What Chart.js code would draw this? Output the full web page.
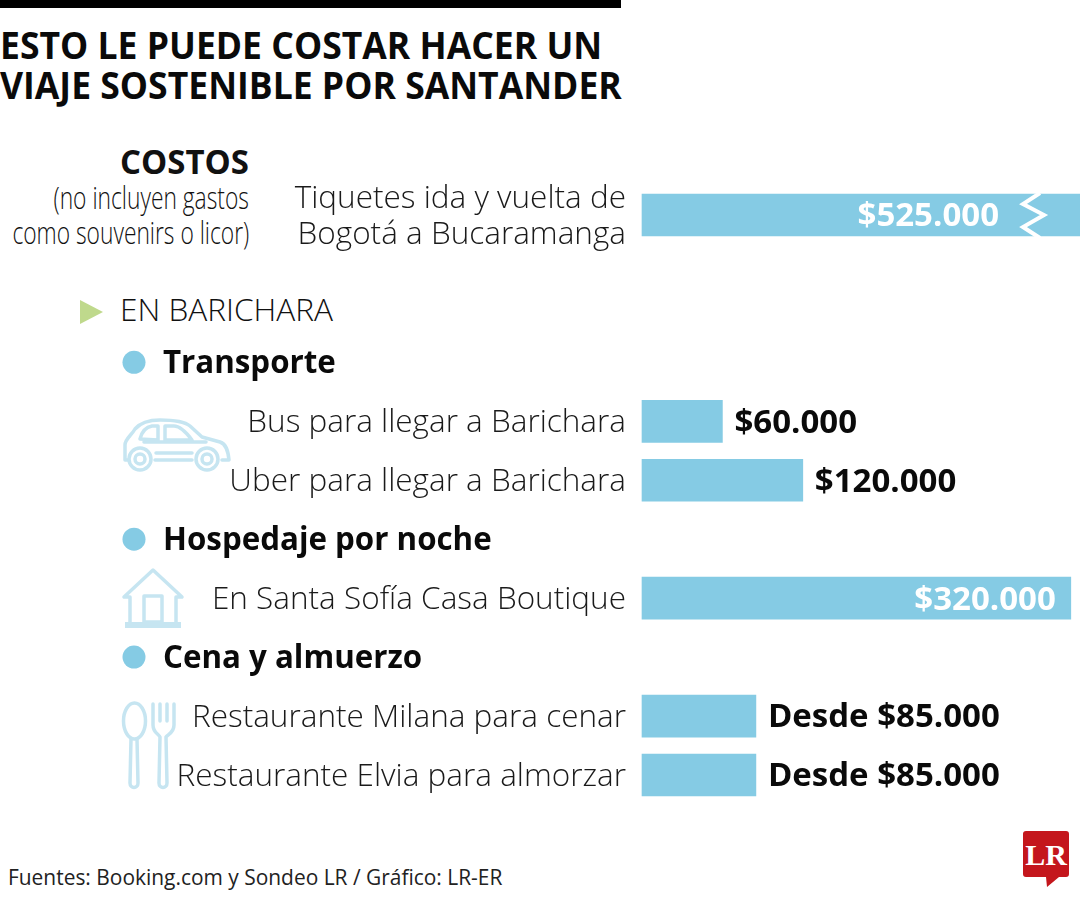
<!DOCTYPE html>
<html lang="es">
<head>
<meta charset="utf-8">
<title>Costos viaje sostenible</title>
<script src="https://cdn.jsdelivr.net/npm/chart.js@4"></script>
<style>
    html, body { margin: 0; padding: 0; background: #fff; }
    #lienzo { position: relative; width: 1080px; height: 900px; overflow: hidden; font-family: "Open Sans", sans-serif; color: #111; }
    #lienzo canvas { position: absolute; left: 0; top: 0; }
    .txt { position: absolute; white-space: nowrap; line-height: 1; }
    .barra-top { position: absolute; left: 0; top: 0; width: 621px; height: 8px; background: #000; }
    .titulo { left: 0; font-size: 38px; font-weight: 700; transform-origin: left top; color: #0a0a0a; }
    .der { transform-origin: right top; text-align: right; }
    svg { position: absolute; overflow: visible; }
    svg .ic { fill: none; stroke: #c6e5f1; stroke-width: 3.5; stroke-linejoin: round; stroke-linecap: round; }
</style>
</head>
<body>
<div id="lienzo">
    <div class="barra-top"></div>
    <div class="txt titulo" style="top:25px;transform:scaleX(.935)">ESTO LE PUEDE COSTAR HACER UN</div>
    <div class="txt titulo" style="top:65px;transform:scaleX(.935)">VIAJE SOSTENIBLE POR SANTANDER</div>

    <div class="txt der" style="right:831px;top:144px;font-size:34px;font-weight:700;transform:scaleX(.97)">COSTOS</div>
    <div class="txt der" style="right:831px;top:182px;font-size:31px;font-weight:300;transform:scaleX(.735)">(no incluyen gastos</div>
    <div class="txt der" style="right:831px;top:217px;font-size:31px;font-weight:300;transform:scaleX(.735)">como souvenirs o licor)</div>

    <svg style="left:80px;top:300px" width="24" height="24"><polygon points="0,0 23,12 0,24" fill="#bfd98c"/></svg>
    <div class="txt" style="left:120px;top:293px;font-size:32px;font-weight:300;transform-origin:left top;transform:scaleX(.987)">EN BARICHARA</div>

    <!-- carro -->
    <svg style="left:122px;top:418px" width="110" height="54" viewBox="0 0 110 54">
        <path class="ic" d="M6 42 H3 V27 C3 21 9 18 13 11 C19 4 28 2 38 2 C50 2 62 3 68 8 L80 19 L98 24 C104 26 106 32 107 42 H100 M70 42 H33"/>
        <path class="ic" d="M18 21 C20 13 24 9 30 8 H36 V22 Z M43 8 H52 C58 8 64 14 70 22 H43 Z M22 24 H84 M34 35 H70"/>
        <circle class="ic" cx="18" cy="41" r="11"/><circle class="ic" cx="18" cy="41" r="5"/>
        <circle class="ic" cx="85" cy="41" r="11"/><circle class="ic" cx="85" cy="41" r="5"/>
    </svg>
    <!-- casa -->
    <svg style="left:122px;top:568px" width="62" height="62" viewBox="0 0 62 62">
        <path class="ic" d="M2 29 L31 2 L60 29 H54 V54 M8 54 V29 H2"/>
        <rect class="ic" x="22" y="28" width="18" height="26"/>
        <rect x="3" y="54" width="56" height="6" fill="#c6e5f1"/>
    </svg>
    <!-- cuchara y tenedor -->
    <svg style="left:122px;top:701px" width="54" height="90" viewBox="0 0 54 90">
        <ellipse class="ic" cx="12.5" cy="20" rx="11" ry="18"/>
        <path class="ic" d="M9 38 L8 82 C8 88 16 88 16 82 L15 38"/>
        <path class="ic" d="M31 3 V24 C31 32 37 33 38 36 L37 82 C37 88 45 88 45 82 L44 36 C46 33 52 32 52 24 V3 M38 3 V20 M45 3 V20"/>
    </svg>
    <!-- logo LR -->
    <svg style="left:1023px;top:831px" width="46" height="58" viewBox="0 0 46 58">
        <path d="M3 0 H43 Q46 0 46 3 V43 Q46 46 43 46 H36 L24 56 L23 46 H3 Q0 46 0 43 V3 Q0 0 3 0 Z" fill="#c4161c"/>
        <text x="23" y="34" text-anchor="middle" font-family="Liberation Serif" font-weight="700" font-size="30" fill="#fff">LR</text>
    </svg>

    <div class="txt" style="left:8px;top:867px;font-size:21px;font-weight:400;color:#222;transform-origin:left top;transform:scaleX(.996)">Fuentes: Booking.com y Sondeo LR / Gráfico: LR-ER</div>

    <canvas id="grafico" width="1080" height="900"></canvas>
</div>

<script>
// Filas del eje (las vacías sirven de separación, los títulos van en "encabezados")
const filas = [
    ["Tiquetes ida y vuelta de", "Bogotá a Bucaramanga"], "", "", "", "",
    "", "", "Bus para llegar a Barichara", "", "Uber para llegar a Barichara",
    "", "", "", "En Santa Sofía Casa Boutique", "",
    "", "", "Restaurante Milana para cenar", "", "Restaurante Elvia para almorzar",
];
const costos = [
    525000, null, null, null, null,
    null, null, 60000, null, 120000,
    null, null, null, 320000, null,
    null, null, 85000, null, 85000,
];
const etiquetas = [
    "$525.000", "", "", "", "",
    "", "", "$60.000", "", "$120.000",
    "", "", "", "$320.000", "",
    "", "", "Desde $85.000", "", "Desde $85.000",
];
const encabezados = { 5: "Transporte", 11: "Hospedaje por noche", 15: "Cena y almuerzo" };

const AZUL = "#85cbe4";
const MAX_VISIBLE = 326866;   // la barra de $525.000 va cortada en el borde

// Títulos de sección, valores y el corte de la barra larga
const pluginTextos = {
    id: "textos",
    beforeDraw(chart) {
        // bajar 2px las etiquetas del eje, el centro de Open Sans queda alto
        const eje = chart.scales.y;
        if (eje._bajado) return;
        const original = eje.drawLabels.bind(eje);
        eje.drawLabels = (area) => {
            chart.ctx.save();
            chart.ctx.translate(0, 2);
            original(area);
            chart.ctx.restore();
        };
        eje._bajado = true;
    },
    afterDatasetsDraw(chart) {
        const { ctx, scales } = chart;
        const meta = chart.getDatasetMeta(0);
        ctx.save();
        ctx.textBaseline = "middle";

        Object.keys(encabezados).forEach((i) => {
            const y = scales.y.getPixelForValue(Number(i));
            ctx.fillStyle = AZUL;
            ctx.beginPath();
            ctx.arc(134, y, 11.5, 0, Math.PI * 2);
            ctx.fill();
            ctx.fillStyle = "#0a0a0a";
            ctx.font = "700 31.3px 'Open Sans'";
            ctx.textAlign = "left";
            ctx.fillText(encabezados[i], 163, y + 2);
        });

        ctx.font = "700 33px 'Open Sans'";
        costos.forEach((v, i) => {
            if (v === null) return;
            const barra = meta.data[i];
            if (v > 300000) {
                ctx.fillStyle = "#fff";
                ctx.textAlign = "right";
                ctx.fillText(etiquetas[i], v > MAX_VISIBLE ? 999 : barra.x - 15, barra.y + 2);
            } else {
                ctx.fillStyle = "#0a0a0a";
                ctx.textAlign = "left";
                ctx.fillText(etiquetas[i], barra.x + 12, barra.y + 2);
            }
        });

        // zigzag blanco
        const y0 = meta.data[0].y;
        ctx.strokeStyle = "#fff";
        ctx.lineWidth = 4;
        ctx.beginPath();
        [[1040, -22], [1023, -11], [1044, 0], [1023, 12], [1040, 23]].forEach(([x, dy], i) => {
            if (i === 0) ctx.moveTo(x, y0 + dy); else ctx.lineTo(x, y0 + dy);
        });
        ctx.stroke();
        ctx.restore();
    },
};

new Chart(document.getElementById("grafico").getContext("2d"), {
    type: "bar",
    data: {
        labels: filas,
        datasets: [{
            data: costos,
            backgroundColor: AZUL,
            barThickness: 42,
            clip: false,
        }],
    },
    options: {
        indexAxis: "y",
        responsive: false,
        animation: false,
        devicePixelRatio: 1,
        layout: { padding: { top: 200.25, bottom: 110.25, left: 0, right: 0 } },
        plugins: { legend: { display: false }, tooltip: { enabled: false } },
        scales: {
            x: { display: false, min: 0, max: MAX_VISIBLE },
            y: {
                afterFit: (s) => { s.width = 642; },
                grid: { display: false, drawTicks: false },
                border: { display: false },
                ticks: {
                    autoSkip: false,
                    padding: 16,
                    color: "#1a1a1a",
                    font: { family: "'Open Sans'", size: 31.5, weight: "300", lineHeight: 1.143 },
                },
            },
        },
    },
    plugins: [pluginTextos],
});
</script>
</body>
</html>
